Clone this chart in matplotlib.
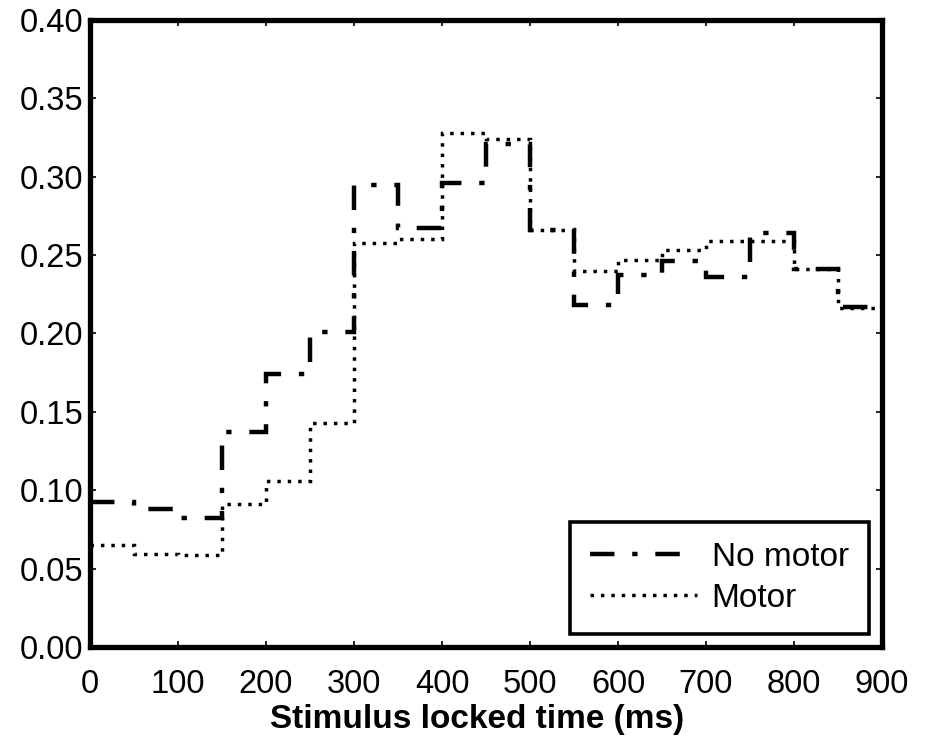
import numpy as np
import matplotlib
matplotlib.use("Agg")
import matplotlib.pyplot as plt

plt.rcParams['font.family'] = ['Liberation Sans', 'DejaVu Sans']

bin_edges = [0, 50, 100, 150, 200, 250, 300, 350, 400, 450, 500, 550, 600, 650, 700, 750, 800, 850, 900]
no_motor = [0.0925, 0.088, 0.082, 0.137, 0.174, 0.201, 0.295, 0.267, 0.296, 0.321,
            0.266, 0.218, 0.237, 0.246, 0.236, 0.264, 0.241, 0.217]
motor = [0.065, 0.0595, 0.0585, 0.091, 0.106, 0.143, 0.258, 0.260, 0.328, 0.324,
         0.266, 0.240, 0.247, 0.253, 0.259, 0.259, 0.241, 0.216]
labels = ["No motor", "Motor"]
xticks = [0, 100, 200, 300, 400, 500, 600, 700, 800, 900]
yticks = [0.00, 0.05, 0.10, 0.15, 0.20, 0.25, 0.30, 0.35, 0.40]

fig = plt.figure(figsize=(9.26, 7.4), dpi=100)
ax = fig.add_axes([0.0972, 0.1257, 0.9525 - 0.0972, 0.973 - 0.1257])

ax.stairs(no_motor, bin_edges, color='black', linewidth=3.2,
          linestyle=(0, (5.5, 4, 1.2, 4)), label=labels[0], baseline=None)
ax.stairs(motor, bin_edges, color='black', linewidth=2.5,
          linestyle=(0, (1, 2)), label=labels[1], baseline=None)

ax.set_xlim(0, 900)
ax.set_ylim(0, 0.40)
ax.set_xticks(xticks)
ax.set_yticks(yticks)
ax.set_xticklabels([str(v) for v in xticks])
ax.set_yticklabels([f"{v:.2f}" for v in yticks])
ax.tick_params(direction='in', length=4, width=1.2, labelsize=23.5,
               top=True, right=True)
ax.tick_params(axis='x', pad=15.5)
ax.tick_params(axis='y', pad=5)
for sp in ax.spines.values():
    sp.set_linewidth(3.8)

ax.set_xlabel("Stimulus locked time (ms)", fontsize=24, fontweight='bold', labelpad=8)
ax.xaxis.set_label_coords(0.489, -0.0)
ax.xaxis.label.set_verticalalignment('top')

leg = ax.legend(loc='lower right', fontsize=24, handlelength=3.2, handletextpad=0.45,
                fancybox=False, framealpha=1, borderpad=0.6, labelspacing=0.3,
                borderaxespad=0.4)
leg.get_frame().set_edgecolor('black')
leg.get_frame().set_linewidth(2.6)

# position xlabel in pixel terms: top of label ~ 705 px from top of figure
from matplotlib.transforms import blended_transform_factory
ax.xaxis.label.set_transform(blended_transform_factory(ax.transAxes, fig.transFigure))
ax.xaxis.label.set_position((0.489, 1 - 704 / 740))

fig.savefig("out.png", dpi=100)
